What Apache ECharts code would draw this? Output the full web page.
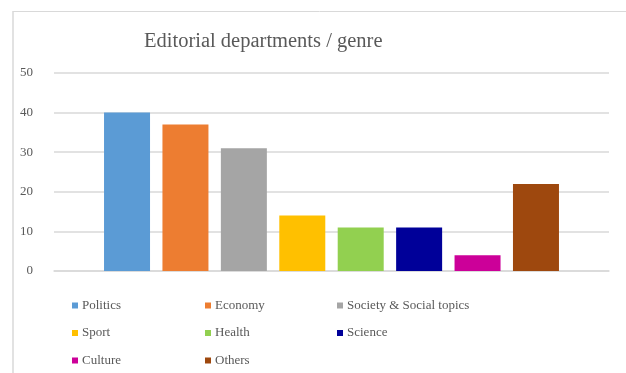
<!DOCTYPE html>
<html>
<head>
<meta charset="utf-8">
<script src="https://cdn.jsdelivr.net/npm/echarts@6/dist/echarts.min.js"></script>
<style>
html,body{margin:0;padding:0;background:#fff;}
#container1{width:626px;height:373px;}
</style>
</head>
<body>
<div id="container1"></div>
<script>
var names=['Politics','Economy','Society & Social topics','Sport','Health','Science','Culture','Others'];
var values=[40,37,31,14,11,11,4,22];
var colors=['#5B9BD5','#ED7D31','#A5A5A5','#FFC000','#92D050','#000099','#CC0099','#9E480E'];
var yTicks=[0,10,20,30,40,50];

var dom1=document.getElementById("container1");
var myChart1=echarts.init(dom1);
var font='"Liberation Serif", "Times New Roman", serif';

var series=[];
for(var i=0;i<names.length;i++){
    series.push({
        name:names[i],
        type:'bar',
        data:[values[i]],
        barWidth:46,
        barGap:'27%',
        itemStyle:{color:colors[i]}
    });
}

// legend laid out in 3 columns, like the original
var cols=[[0,3,6],[1,4,7],[2,5]];
var colLeft=[72,205,337];
var legends=cols.map(function(c,k){
    return {
        orient:'vertical',
        left:colLeft[k],
        top:299,
        height:120,
        itemWidth:6,
        itemHeight:6,
        itemGap:14.5,
        icon:'rect',
        data:c.map(function(j){return names[j];}),
        selectedMode:false,
        textStyle:{fontFamily:font,fontSize:13,color:'#595959',padding:[0,0,0,-1]},
        padding:0
    };
});

var option1={
    animation:false,
    title:{
        text:'Editorial departments / genre',
        left:139,
        top:26,
        textStyle:{fontFamily:font,fontSize:20.5,fontWeight:'normal',color:'#595959'}
    },
    graphic:[{
        type:'line',
        shape:{x1:13,y1:11.5,x2:626,y2:11.5},
        style:{stroke:'#d9d9d9',lineWidth:1}
    },{
        type:'line',
        shape:{x1:13,y1:11,x2:13,y2:373},
        style:{stroke:'#d9d9d9',lineWidth:1.5}
    }],
    legend:legends,
    grid:{left:54,right:17,top:73,bottom:102},
    xAxis:{
        type:'category',
        data:[''],
        axisLine:{show:true,lineStyle:{color:'#d9d9d9',width:1.5}},
        axisTick:{show:false},
        axisLabel:{show:false}
    },
    yAxis:{
        type:'value',
        min:yTicks[0],
        max:yTicks[yTicks.length-1],
        interval:10,
        axisLine:{show:false},
        axisTick:{show:false},
        axisLabel:{margin:21,fontFamily:font,fontSize:13,color:'#595959'},
        splitLine:{lineStyle:{color:'#d9d9d9',width:1.5}}
    },
    series:series
};
myChart1.setOption(option1);
</script>
</body>
</html>
